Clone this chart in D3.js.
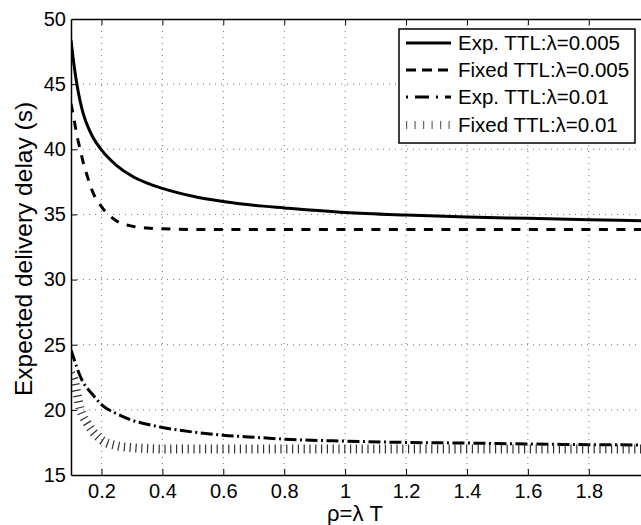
<!DOCTYPE html>
<html>
<head>
<meta charset="utf-8">
<script src="https://cdn.jsdelivr.net/npm/d3@7"></script>
<style>
  body { margin: 0; background: #fff; }
  svg { display: block; font-family: "Liberation Sans", Arial, sans-serif; }
</style>
</head>
<body>
<div id="chart"></div>
<script>

// values
var rho =        [0.1, 0.11, 0.12, 0.13, 0.14, 0.15, 0.17, 0.2, 0.25, 0.3, 0.35, 0.4, 0.5, 0.6, 0.7, 0.8, 1.0, 1.2, 1.4, 1.6, 1.8, 2.0];
var expTTL005 =  [48.4, 46.45, 44.9, 43.7, 42.75, 42.05, 41.0, 39.95, 38.75, 37.95, 37.4, 37.0, 36.4, 36.0, 35.7, 35.5, 35.15, 34.95, 34.8, 34.7, 34.6, 34.5];
var fixTTL005 =  [43.5, 42.3, 41.0, 40.0, 39.0, 38.2, 36.8, 35.6, 34.5, 34.1, 33.95, 33.9, 33.85, 33.85, 33.85, 33.85, 33.85, 33.85, 33.85, 33.85, 33.85, 33.85];
var expTTL01 =   [24.6, 23.9, 23.2, 22.6, 22.1, 21.75, 21.2, 20.4, 19.7, 19.2, 18.9, 18.65, 18.3, 18.05, 17.9, 17.75, 17.6, 17.5, 17.45, 17.38, 17.33, 17.3];
var fixTTL01 =   [22.8, 22.3, 21.2, 20.1, 19.5, 19.1, 18.4, 17.7, 17.25, 17.1, 17.03, 17.0, 17.0, 17.0, 17.0, 17.0, 17.0, 17.0, 17.0, 17.0, 17.0, 17.0];

var seriesNames = ["Exp. TTL:\u03bb=0.005", "Fixed TTL:\u03bb=0.005", "Exp. TTL:\u03bb=0.01", "Fixed TTL:\u03bb=0.01"];
var xTicks = [0.2, 0.4, 0.6, 0.8, 1, 1.2, 1.4, 1.6, 1.8];
var yTicks = [15, 20, 25, 30, 35, 40, 45, 50];
var xTitle = "\u03c1=\u03bb T";
var yTitle = "Expected delivery delay (s)";

var width = 641, height = 525;
var plot = {left: 71, right: 649.7, top: 19, bottom: 475};

var svg = d3.select("#chart").append("svg")
  .attr("width", width)
  .attr("height", height);

var x = d3.scaleLinear().domain([0.1, 2]).range([plot.left, plot.right]);
var y = d3.scaleLinear().domain([15, 50]).range([plot.bottom, plot.top]);

// dotted grid
svg.append("g").selectAll("line")
  .data(xTicks)
  .enter().append("line")
    .attr("x1", function(d) { return x(d); })
    .attr("x2", function(d) { return x(d); })
    .attr("y1", plot.top)
    .attr("y2", plot.bottom)
    .attr("stroke", "#777")
    .attr("stroke-width", 1)
    .attr("stroke-dasharray", "1,5");

svg.append("g").selectAll("line")
  .data(yTicks.filter(function(d) { return d > 15 && d < 50; }))
  .enter().append("line")
    .attr("x1", plot.left)
    .attr("x2", plot.right)
    .attr("y1", function(d) { return y(d); })
    .attr("y2", function(d) { return y(d); })
    .attr("stroke", "#777")
    .attr("stroke-width", 1)
    .attr("stroke-dasharray", "1,5");

// curves
svg.append("clipPath").attr("id", "clip")
  .append("rect")
    .attr("x", plot.left).attr("y", plot.top)
    .attr("width", plot.right - plot.left)
    .attr("height", plot.bottom - plot.top);

var styles = [
  {dash: null, width: 3, color: "#000"},
  {dash: "9,8.5", width: 3, color: "#000"},
  {dash: "12,3.5,2,3.5", width: 3, color: "#000"},
  {dash: "1.2,4.6", width: 9, color: "#333"}
];
var series = [expTTL005, fixTTL005, expTTL01, fixTTL01];

var line = d3.line()
  .x(function(d, i) { return x(rho[i]); })
  .y(function(d) { return y(d); })
  .curve(d3.curveMonotoneX);

svg.append("g").attr("clip-path", "url(#clip)")
  .selectAll("path")
  .data(series)
  .enter().append("path")
    .attr("d", line)
    .attr("fill", "none")
    .attr("stroke", function(d, i) { return styles[i].color; })
    .attr("stroke-width", function(d, i) { return styles[i].width; })
    .attr("stroke-dasharray", function(d, i) { return styles[i].dash; });

// axes
var fmt = d3.format("");

var xAxis = svg.append("g")
  .attr("transform", "translate(0," + plot.bottom + ")")
  .call(d3.axisBottom(x).tickValues(xTicks).tickFormat(fmt).tickSize(-6).tickSizeOuter(0).tickPadding(9));

var xAxisTop = svg.append("g")
  .attr("transform", "translate(0," + plot.top + ")")
  .call(d3.axisTop(x).tickValues(xTicks).tickFormat("").tickSize(-6).tickSizeOuter(0));

var yAxis = svg.append("g")
  .attr("transform", "translate(" + plot.left + ",0)")
  .call(d3.axisLeft(y).tickValues(yTicks).tickFormat(fmt).tickSize(-6).tickSizeOuter(0).tickPadding(5));

[xAxis, xAxisTop, yAxis].forEach(function(a) {
  a.select(".domain").attr("stroke", "#000").attr("stroke-width", 1.5);
  a.selectAll(".tick line").attr("stroke", "#000").attr("stroke-width", 1);
  a.selectAll("text").attr("font-size", 20).attr("fill", "#000").attr("font-family", null);
});
yAxis.selectAll(".tick").filter(function(d) { return d == 15 || d == 50; }).select("line").remove();

// titles
svg.append("text")
  .attr("x", 355)
  .attr("y", 521)
  .attr("text-anchor", "middle")
  .attr("font-size", 22)
  .text(xTitle);

svg.append("text")
  .attr("transform", "translate(32,249) rotate(-90)")
  .attr("text-anchor", "middle")
  .attr("font-size", 24.5)
  .text(yTitle);

// legend
var legend = svg.append("g");
legend.append("rect")
  .attr("x", 399).attr("y", 29)
  .attr("width", 236).attr("height", 114)
  .attr("fill", "#fff")
  .attr("stroke", "#000")
  .attr("stroke-width", 1.5);

var rowY = [43, 70, 97, 125];
var legendDash = [null, "10,6", "2,7,14,7", "1.2,7.3"];

var rows = legend.selectAll("g.row")
  .data(seriesNames)
  .enter().append("g")
    .attr("class", "row")
    .attr("transform", function(d, i) { return "translate(0," + rowY[i] + ")"; });

rows.append("line")
  .attr("x1", 406).attr("x2", 451)
  .attr("y1", 0).attr("y2", 0)
  .attr("stroke", function(d, i) { return i == 3 ? "#666" : "#000"; })
  .attr("stroke-width", function(d, i) { return i == 3 ? 8 : 3; })
  .attr("stroke-dasharray", function(d, i) { return legendDash[i]; });

rows.append("text")
  .attr("x", 458)
  .attr("y", 0)
  .attr("dy", "0.35em")
  .attr("font-size", 20.5)
  .text(function(d) { return d; });

</script>
</body>
</html>
